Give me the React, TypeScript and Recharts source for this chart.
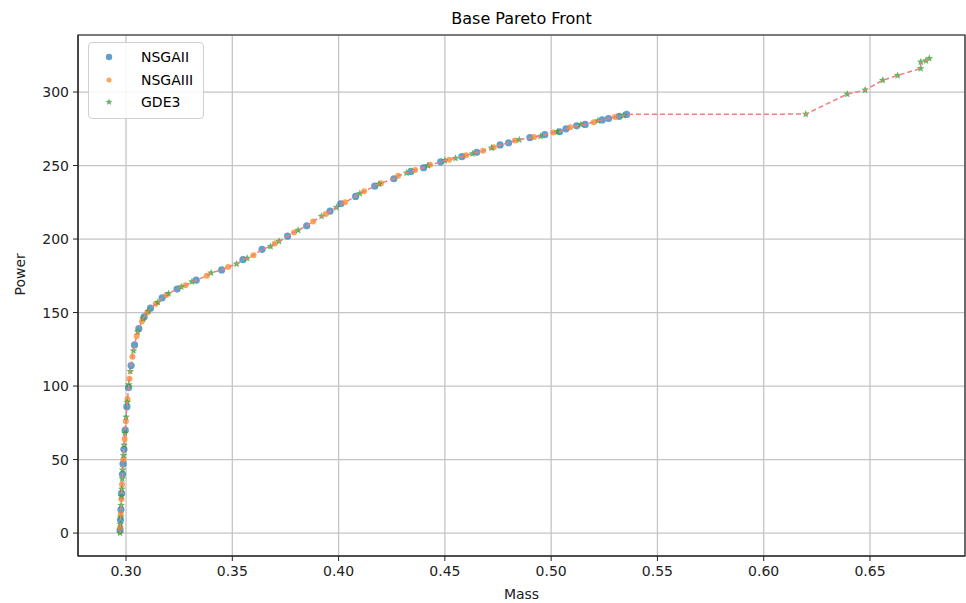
import React from "react"
import { CartesianGrid, ReferenceArea, Scatter, ScatterChart, XAxis, YAxis } from "recharts"

// points: [mass, power]
const nsgaII: [number, number][] = [
  [0.2972, 2], [0.2974, 9], [0.2976, 16], [0.2979, 27], [0.2983, 40], [0.2986, 47], [0.299, 57],
  [0.2996, 70], [0.3004, 86], [0.3012, 99], [0.3024, 114], [0.304, 128], [0.306, 139], [0.3085, 147],
  [0.3115, 153], [0.317, 160], [0.324, 166], [0.333, 172], [0.345, 179], [0.355, 186], [0.364, 193],
  [0.376, 202], [0.385, 209], [0.396, 219], [0.401, 224], [0.408, 229], [0.417, 236], [0.426, 241],
  [0.434, 246], [0.44, 248.5], [0.448, 252.5], [0.458, 256], [0.465, 259], [0.476, 264], [0.48, 265.5],
  [0.49, 269], [0.497, 271], [0.504, 273], [0.507, 275], [0.512, 277], [0.516, 278], [0.524, 281],
  [0.527, 282], [0.532, 283.5], [0.5355, 284.8],
]

const nsgaIII: [number, number][] = [
  [0.2973, 4], [0.2975, 13], [0.2978, 23], [0.2981, 33], [0.2987, 50], [0.2993, 64], [0.2999, 76],
  [0.3007, 91], [0.3016, 105], [0.303, 120], [0.305, 134], [0.3075, 144], [0.31, 150], [0.314, 156],
  [0.319, 162], [0.328, 168.5], [0.338, 175], [0.348, 181], [0.36, 189], [0.37, 197], [0.379, 204.5],
  [0.388, 212], [0.394, 217], [0.403, 225], [0.412, 232.5], [0.42, 238], [0.428, 243], [0.436, 247],
  [0.443, 250.5], [0.452, 254], [0.46, 257], [0.468, 260], [0.473, 262.5], [0.483, 267], [0.492, 269.5],
  [0.501, 272.5], [0.509, 276], [0.52, 279.5], [0.53, 283],
]

const gde3: [number, number][] = [
  [0.2972, 0], [0.2973, 6], [0.2975, 11], [0.2977, 19], [0.2978, 25], [0.298, 30], [0.2982, 37],
  [0.2984, 43], [0.2988, 53], [0.2991, 60], [0.2995, 68], [0.3, 79], [0.3006, 89], [0.3013, 101],
  [0.302, 110], [0.3035, 124], [0.3055, 137], [0.308, 146], [0.3105, 151], [0.315, 157], [0.32, 163],
  [0.326, 167.5], [0.331, 171], [0.34, 177], [0.352, 183], [0.357, 187], [0.368, 195], [0.372, 198.5],
  [0.381, 206], [0.392, 215.5], [0.399, 221.5], [0.41, 231], [0.419, 237.5], [0.432, 245], [0.442, 250],
  [0.45, 253.5], [0.455, 255], [0.463, 258], [0.472, 262], [0.485, 267.5], [0.495, 270], [0.503, 273],
  [0.514, 278], [0.522, 280.5], [0.534, 284], [0.6198, 285], [0.6393, 298.6], [0.6477, 301.4],
  [0.656, 308], [0.663, 311.3], [0.6738, 316], [0.6739, 320.4], [0.6763, 321.3], [0.6779, 322.9],
]

const xTicks = [0.3, 0.35, 0.4, 0.45, 0.5, 0.55, 0.6, 0.65]
const yTicks = [0, 50, 100, 150, 200, 250, 300]
const xDomain: [number, number] = [0.2774, 0.6947]
const yDomain: [number, number] = [-15.6, 338.8]

const toPts = (arr: [number, number][]) => arr.map(([x, y]) => ({ x, y }))
const front = [...nsgaII, ...nsgaIII, ...gde3].sort((a, b) => a[0] - b[0])

const BLUE = "#1f77b4"
const ORANGE = "#ff7f0e"
const GREEN = "#2ca02c"
const FONT = "DejaVu Sans, sans-serif"

const dot = (color: string, r: number) => (props: any) =>
  <circle cx={props.cx} cy={props.cy} r={r} fill={color} fillOpacity={0.7} />

function starPath(cx: number, cy: number, r: number) {
  let d = ""
  for (let i = 0; i < 10; i++) {
    const rr = i % 2 === 0 ? r : r * 0.45
    const a = -Math.PI / 2 + (i * Math.PI) / 5
    d += (i === 0 ? "M" : "L") + (cx + rr * Math.cos(a)).toFixed(2) + "," + (cy + rr * Math.sin(a)).toFixed(2)
  }
  return d + "Z"
}

const star = (props: any) => <path d={starPath(props.cx, props.cy, 4)} fill={GREEN} fillOpacity={0.75} />

function LegendBox() {
  const rows = [
    { name: "NSGAII", marker: <circle cx={6} cy={6} r={3.2} fill={BLUE} fillOpacity={0.7} /> },
    { name: "NSGAIII", marker: <circle cx={6} cy={6} r={2.5} fill={ORANGE} fillOpacity={0.7} /> },
    { name: "GDE3", marker: <path d={starPath(6, 6, 3.6)} fill={GREEN} fillOpacity={0.75} /> },
  ]
  return (
    <div
      style={{
        position: "absolute", left: 88, top: 42, width: 114, height: 75, border: "1px solid #d0d0d0",
        borderRadius: 4, background: "rgba(255,255,255,0.85)", fontFamily: FONT, fontSize: 14, color: "#000",
      }}
    >
      {rows.map((r, i) => (
        <div key={r.name} style={{ position: "absolute", left: 14, top: 4 + i * 22.5, height: 20, display: "flex", alignItems: "center" }}>
          <svg width={12} height={12}>{r.marker}</svg>
          <span style={{ marginLeft: 26 }}>{r.name}</span>
        </div>
      ))}
    </div>
  )
}

export default function App() {
  return (
    <div style={{ position: "absolute", left: 0, top: 0, width: 966, height: 603, background: "#fff" }}>
      <div style={{ position: "absolute", left: 0, top: 9, width: 1043, textAlign: "center", fontFamily: FONT, fontSize: 16 }}>
        Base Pareto Front
      </div>
      <ScatterChart width={966} height={603} margin={{ top: 35, right: 1, bottom: 0, left: 0 }}>
        <CartesianGrid stroke="#c4c4c4" strokeWidth={1.3} />
        <XAxis
          type="number" dataKey="x" domain={xDomain} ticks={xTicks} allowDataOverflow
          tickFormatter={(v: number) => v.toFixed(2)} height={47} tickSize={5} tickMargin={5}
          stroke="#222" tick={{ fill: "#222", fontSize: 14, fontFamily: FONT }}
          label={{ value: "Mass", position: "insideBottom", offset: 4, fill: "#222", fontSize: 14, fontFamily: FONT }}
        />
        <YAxis
          type="number" dataKey="y" domain={yDomain} ticks={yTicks} allowDataOverflow width={78}
          tickSize={5} tickMargin={4} stroke="#222" tick={{ fill: "#222", fontSize: 14, fontFamily: FONT }}
          label={{ value: "Power", angle: -90, position: "insideLeft", offset: 20, fill: "#222", fontSize: 14, fontFamily: FONT }}
        />
        <Scatter name="NSGAII" data={toPts(nsgaII)} shape={dot(BLUE, 3.6)} isAnimationActive={false} />
        <Scatter name="NSGAIII" data={toPts(nsgaIII)} shape={dot(ORANGE, 3)} isAnimationActive={false} />
        <Scatter name="GDE3" data={toPts(gde3)} shape={star} isAnimationActive={false} />
        <Scatter
          data={toPts(front)} shape={() => <g />} lineType="joint"
          line={{ stroke: "#f07f7f", strokeWidth: 1.5, strokeDasharray: "5 3" }} isAnimationActive={false}
        />
        <ReferenceArea x1={xDomain[0]} x2={xDomain[1]} y1={yDomain[0]} y2={yDomain[1]} fill="none" stroke="#222" strokeWidth={1.2} />
      </ScatterChart>
      <LegendBox />
    </div>
  )
}
